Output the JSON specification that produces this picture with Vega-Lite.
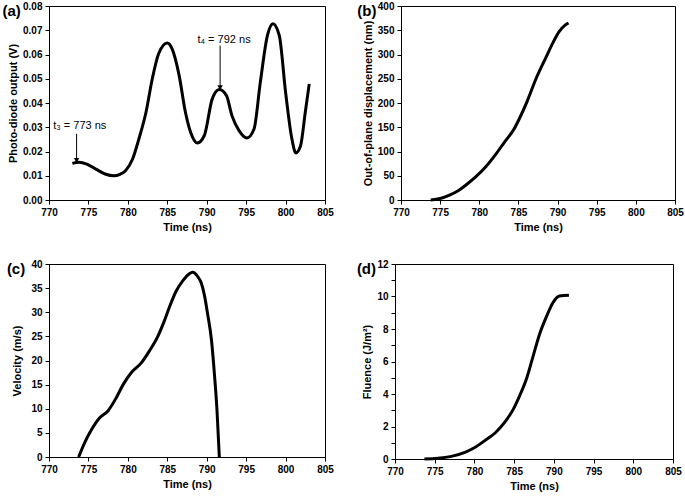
{
  "$schema": "https://vega.github.io/schema/vega-lite/v6.json",
  "padding": {"left": 2, "top": 0, "right": 0, "bottom": 0},
  "spacing": 25,
  "config": {
    "font": "Liberation Sans",
    "view": {"stroke": "black", "strokeWidth": 1},
    "axis": {"grid": false, "domainColor": "black", "tickColor": "black", "labelColor": "black", "titleColor": "black", "labelFontWeight": "bold", "labelFontSize": 10, "titleFontSize": 11, "titleFontWeight": "bold", "tickSize": 4, "labelPadding": 3, "labelOverlap": false, "labelBound": false, "labelFlush": false},
    "title": {"fontSize": 15, "fontWeight": "bold", "anchor": "start", "frame": "bounds", "color": "black", "baseline": "top"},
    "line": {"color": "black", "strokeWidth": 3, "interpolate": "monotone"}
  },
  "datasets": {
    "a": [
      {"t": 772.96, "v": 0.0151}, {"t": 773.8, "v": 0.0156}, {"t": 774.8, "v": 0.0148}, {"t": 776.0, "v": 0.0126}, {"t": 777.2, "v": 0.0106}, {"t": 778.2, "v": 0.0100},
      {"t": 779.0, "v": 0.0106}, {"t": 779.7, "v": 0.0121}, {"t": 780.6, "v": 0.0169}, {"t": 781.4, "v": 0.0252}, {"t": 782.3, "v": 0.0362}, {"t": 783.1, "v": 0.0500},
      {"t": 783.9, "v": 0.0603}, {"t": 785.0, "v": 0.0647}, {"t": 785.6, "v": 0.0624}, {"t": 786.5, "v": 0.0514}, {"t": 787.3, "v": 0.0362}, {"t": 788.2, "v": 0.0259},
      {"t": 788.8, "v": 0.0235}, {"t": 789.7, "v": 0.0266}, {"t": 790.7, "v": 0.0417}, {"t": 791.6, "v": 0.0456}, {"t": 792.5, "v": 0.0431}, {"t": 793.2, "v": 0.0348},
      {"t": 794.1, "v": 0.0286}, {"t": 795.1, "v": 0.0256}, {"t": 796.0, "v": 0.0293}, {"t": 796.8, "v": 0.0486}, {"t": 797.7, "v": 0.0679}, {"t": 798.4, "v": 0.0727},
      {"t": 799.2, "v": 0.0679}, {"t": 800.0, "v": 0.0445}, {"t": 800.8, "v": 0.0252}, {"t": 801.3, "v": 0.0194}, {"t": 801.9, "v": 0.0224}, {"t": 802.5, "v": 0.0362},
      {"t": 803.0, "v": 0.0479}
    ],
    "ann": [
      {"t": 773.5, "top": 0.0273, "tip": 0.0163, "lt": 773.9, "lv": 0.0291, "label": "t₃ = 773 ns"},
      {"t": 791.7, "top": 0.0637, "tip": 0.0463, "lt": 792.2, "lv": 0.0647, "label": "t₄ = 792 ns"}
    ],
    "b": [
      {"t": 773.8, "v": 0}, {"t": 775.0, "v": 3}, {"t": 776.2, "v": 10}, {"t": 777.3, "v": 19}, {"t": 778.3, "v": 31}, {"t": 779.5, "v": 47},
      {"t": 780.8, "v": 68}, {"t": 782.0, "v": 92}, {"t": 783.2, "v": 119}, {"t": 784.5, "v": 148}, {"t": 785.1, "v": 167}, {"t": 786.1, "v": 203},
      {"t": 787.3, "v": 252}, {"t": 788.4, "v": 290}, {"t": 789.4, "v": 324}, {"t": 790.2, "v": 347}, {"t": 791.0, "v": 361}, {"t": 791.4, "v": 365}
    ],
    "c": [
      {"t": 773.76, "v": 0}, {"t": 774.5, "v": 2.9}, {"t": 775.4, "v": 5.7}, {"t": 776.4, "v": 8.1}, {"t": 777.5, "v": 9.6}, {"t": 778.5, "v": 12.2},
      {"t": 779.4, "v": 15.0}, {"t": 780.4, "v": 17.4}, {"t": 781.7, "v": 19.5}, {"t": 782.7, "v": 21.9}, {"t": 783.8, "v": 25.0}, {"t": 784.6, "v": 28.1},
      {"t": 785.3, "v": 31.2}, {"t": 786.1, "v": 34.3}, {"t": 787.0, "v": 36.6}, {"t": 787.8, "v": 38.0}, {"t": 788.2, "v": 38.3}, {"t": 788.9, "v": 37.3},
      {"t": 789.3, "v": 36.1}, {"t": 789.7, "v": 33.6}, {"t": 790.1, "v": 29.8}, {"t": 790.6, "v": 24.3}, {"t": 791.0, "v": 16.7}, {"t": 791.3, "v": 9.8},
      {"t": 791.6, "v": 0}
    ],
    "d": [
      {"t": 773.7, "v": 0}, {"t": 775.4, "v": 0.04}, {"t": 777.1, "v": 0.16}, {"t": 778.8, "v": 0.41}, {"t": 780.1, "v": 0.72}, {"t": 781.3, "v": 1.13},
      {"t": 782.6, "v": 1.6}, {"t": 783.8, "v": 2.25}, {"t": 784.9, "v": 3.07}, {"t": 785.7, "v": 3.9}, {"t": 786.6, "v": 5.0}, {"t": 787.4, "v": 6.35},
      {"t": 788.2, "v": 7.68}, {"t": 789.1, "v": 8.8}, {"t": 789.9, "v": 9.63}, {"t": 790.7, "v": 10.03}, {"t": 791.9, "v": 10.08}
    ]
  },
  "vconcat": [
    {
      "spacing": 22,
      "hconcat": [
        {
          "width": 276, "height": 194,
          "title": {"text": "(a)", "dy": 22, "dx": -5},
          "layer": [
            {
              "data": {"name": "a"},
              "mark": {"type": "line"},
              "encoding": {
                "x": {"field": "t", "type": "quantitative", "scale": {"domain": [770, 805], "nice": false}, "axis": {"title": "Time (ns)", "values": [770, 775, 780, 785, 790, 795, 800, 805]}},
                "y": {"field": "v", "type": "quantitative", "scale": {"domain": [0, 0.08], "nice": false}, "axis": {"title": "Photo-diode output (V)", "format": ".2f", "values": [0, 0.01, 0.02, 0.03, 0.04, 0.05, 0.06, 0.07, 0.08]}}
              }
            },
            {
              "data": {"name": "ann"},
              "mark": {"type": "rule", "color": "black", "strokeWidth": 1},
              "encoding": {
                "x": {"field": "t", "type": "quantitative", "axis": {"title": "Time (ns)", "values": [770, 775, 780, 785, 790, 795, 800, 805]}},
                "y": {"field": "top", "type": "quantitative", "axis": {"title": "Photo-diode output (V)", "format": ".2f", "values": [0, 0.01, 0.02, 0.03, 0.04, 0.05, 0.06, 0.07, 0.08]}},
                "y2": {"field": "tip"}
              }
            },
            {
              "data": {"name": "ann"},
              "mark": {"type": "point", "shape": "triangle-down", "filled": true, "color": "black", "size": 30, "opacity": 1},
              "encoding": {
                "x": {"field": "t", "type": "quantitative", "axis": {"title": "Time (ns)", "values": [770, 775, 780, 785, 790, 795, 800, 805]}},
                "y": {"field": "tip", "type": "quantitative", "axis": {"title": "Photo-diode output (V)", "format": ".2f", "values": [0, 0.01, 0.02, 0.03, 0.04, 0.05, 0.06, 0.07, 0.08]}}
              }
            },
            {
              "data": {"name": "ann"},
              "mark": {"type": "text", "fontSize": 11, "color": "black", "baseline": "alphabetic", "align": "center"},
              "encoding": {
                "x": {"field": "lt", "type": "quantitative", "axis": {"title": "Time (ns)", "values": [770, 775, 780, 785, 790, 795, 800, 805]}},
                "y": {"field": "lv", "type": "quantitative", "axis": {"title": "Photo-diode output (V)", "format": ".2f", "values": [0, 0.01, 0.02, 0.03, 0.04, 0.05, 0.06, 0.07, 0.08]}},
                "text": {"field": "label"}
              }
            }
          ]
        },
        {
          "width": 274, "height": 194,
          "title": {"text": "(b)", "dy": 22, "dx": -5},
          "data": {"name": "b"},
          "mark": {"type": "line"},
          "encoding": {
            "x": {"field": "t", "type": "quantitative", "scale": {"domain": [770, 805], "nice": false}, "axis": {"title": "Time (ns)", "values": [770, 775, 780, 785, 790, 795, 800, 805]}},
            "y": {"field": "v", "type": "quantitative", "scale": {"domain": [0, 400], "nice": false}, "axis": {"title": "Out-of-plane displacement (nm)", "values": [0, 50, 100, 150, 200, 250, 300, 350, 400]}}
          }
        }
      ]
    },
    {
      "spacing": 22,
      "hconcat": [
        {
          "width": 276, "height": 193,
          "title": {"text": "(c)", "dy": 22, "dx": -5},
          "data": {"name": "c"},
          "mark": {"type": "line"},
          "encoding": {
            "x": {"field": "t", "type": "quantitative", "scale": {"domain": [770, 805], "nice": false}, "axis": {"title": "Time (ns)", "values": [770, 775, 780, 785, 790, 795, 800, 805]}},
            "y": {"field": "v", "type": "quantitative", "scale": {"domain": [0, 40], "nice": false}, "axis": {"title": "Velocity (m/s)", "titlePadding": 8, "values": [0, 5, 10, 15, 20, 25, 30, 35, 40]}}
          }
        },
        {
          "width": 278, "height": 195,
          "title": {"text": "(d)", "dy": 22, "dx": -5},
          "data": {"name": "d"},
          "mark": {"type": "line"},
          "encoding": {
            "x": {"field": "t", "type": "quantitative", "scale": {"domain": [770, 805], "nice": false}, "axis": {"title": "Time (ns)", "values": [770, 775, 780, 785, 790, 795, 800, 805]}},
            "y": {"field": "v", "type": "quantitative", "scale": {"domain": [0, 12], "nice": false}, "axis": {"title": "Fluence (J/m²)", "values": [0, 1, 2, 3, 4, 5, 6, 7, 8, 9, 10, 11, 12], "labelExpr": "datum.value % 2 == 0 ? datum.label : ''"}}
          }
        }
      ]
    }
  ]
}
